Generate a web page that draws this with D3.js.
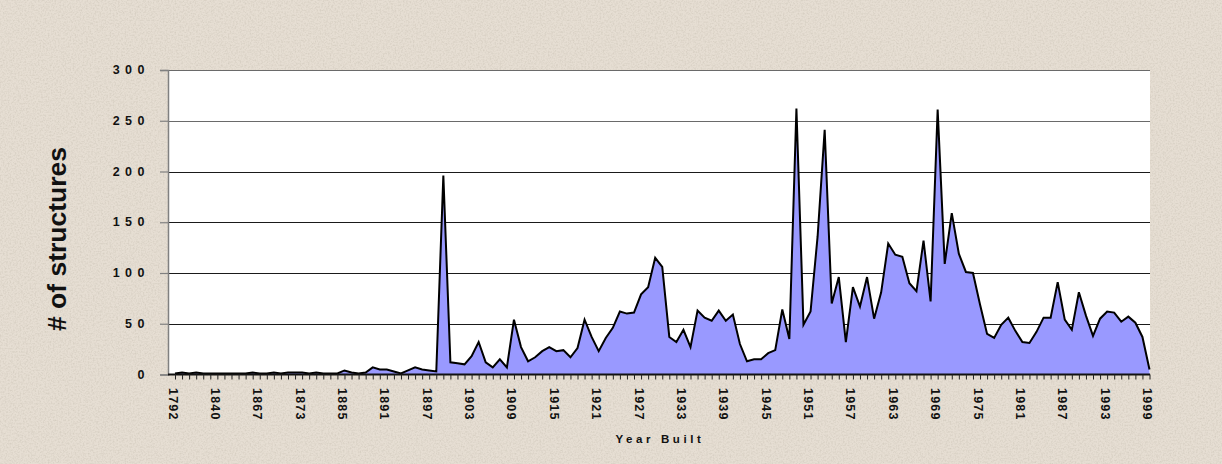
<!DOCTYPE html>
<html>
<head>
<meta charset="utf-8">
<script src="https://cdn.jsdelivr.net/npm/d3@7"></script>
<style>
  html, body { margin: 0; padding: 0; background: #e4dcd0; }
  svg { display: block; }
</style>
</head>
<body>
<svg id="chart" width="1222" height="464"></svg>
<script>
// ---- data ----
const earlyYears = ["1792","1800","1810","1820","1826","1834","1840","1845","1850","1854","1858","1862"];
const midYears = d3.range(1867, 1874).map(String);          // 1867..1873
const gapYears = ["1875","1877","1879","1881","1883"];
const lateYears = d3.range(1885, 2000).map(String);         // 1885..1999
const years = [...earlyYears, ...midYears, ...gapYears, ...lateYears];

const counts = [
  1,2,1,2,1,1,1,1,1,1,1,2,1,1,2,1,2,2,2,1,2,1,1,1,4,2,1,2,7,5,5,3,1,4,7,5,
  4,3,196,12,11,10,18,32,12,7,15,7,54,27,13,17,23,27,23,24,17,26,54,37,23,36,
  46,62,60,61,79,86,115,106,37,32,44,27,63,56,53,63,53,59,30,13,15,15,21,24,
  64,35,262,49,62,136,241,70,96,32,86,67,96,55,81,129,118,116,90,82,132,72,
  261,109,159,119,101,100,69,40,36,49,56,43,32,31,42,56,56,91,54,44,81,58,38,
  55,62,61,52,57,51,37,5
];

const xTickLabels = ["1792","1840","1867","1873","1885","1891","1897","1903","1909","1915",
  "1921","1927","1933","1939","1945","1951","1957","1963","1969","1975","1981","1987","1993","1999"];
const yTicks = [0, 50, 100, 150, 200, 250, 300];

const yTitle = "# of structures";
const xTitle = "Year Built";

// ---- layout ----
const svg = d3.select("#chart");
const W = 1222, H = 464;
const plot = { left: 168, right: 1150, top: 70, bottom: 374.5 };

// background texture
const defs = svg.append("defs");
const f = defs.append("filter").attr("id", "paper").attr("x", 0).attr("y", 0).attr("width", "100%").attr("height", "100%");
f.append("feTurbulence").attr("type", "fractalNoise").attr("baseFrequency", "0.6").attr("numOctaves", 3).attr("seed", 7).attr("result", "n");
f.append("feColorMatrix").attr("in", "n").attr("type", "matrix")
  .attr("values", "0 0 0 0 0.6  0 0 0 0 0.55  0 0 0 0 0.47  0 0 0 -2 1.2");
svg.append("rect").attr("width", W).attr("height", H).attr("fill", "#e6ded3");
svg.append("rect").attr("width", W).attr("height", H).attr("filter", "url(#paper)").attr("opacity", 0.6);

// plot area
svg.append("rect")
  .attr("x", plot.left).attr("y", plot.top)
  .attr("width", plot.right - plot.left).attr("height", plot.bottom - plot.top)
  .attr("fill", "#ffffff");

const x = d3.scalePoint().domain(years).range([175, 1149.5]);
const y = d3.scaleLinear().domain([0, 300]).range([plot.bottom, plot.top]);

// gridlines
svg.append("g").selectAll("line").data(yTicks.filter(d => d > 0)).join("line")
  .attr("x1", plot.left).attr("x2", plot.right)
  .attr("y1", d => Math.round(y(d)) + 0.5).attr("y2", d => Math.round(y(d)) + 0.5)
  .attr("stroke", d => d >= 250 ? "#6a6a6a" : "#1a1a1a").attr("stroke-width", 1);

// area + line
const data = years.map((yr, i) => ({ yr, v: counts[i] }));
svg.append("path").datum(data)
  .attr("fill", "#9999ff")
  .attr("d", d3.area().x(d => x(d.yr)).y0(y(0)).y1(d => y(d.v)));
svg.append("path").datum(data)
  .attr("fill", "none").attr("stroke", "#000").attr("stroke-width", 2).attr("stroke-linejoin", "miter")
  .attr("d", d3.line().x(d => x(d.yr)).y(d => y(d.v)));

// y axis
const yAxis = svg.append("g").attr("transform", `translate(${plot.left},0)`)
  .call(d3.axisLeft(y).tickValues(yTicks).tickSize(8).tickFormat(""));
yAxis.select(".domain").attr("stroke", "#808080").attr("stroke-width", 1.5);
yAxis.selectAll(".tick line").attr("stroke", "#808080").attr("stroke-width", 1.2);

svg.append("g").selectAll("text").data(yTicks).join("text")
  .attr("x", 150).attr("y", d => y(d))
  .attr("text-anchor", "end").attr("dominant-baseline", "central")
  .attr("font-family", "Liberation Sans, Arial, sans-serif").attr("font-weight", "bold")
  .attr("font-size", 12.5).attr("letter-spacing", "5.5px").attr("fill", "#111")
  .text(d => d);

// x axis
const xAxis = svg.append("g").attr("transform", `translate(0,${plot.bottom})`)
  .call(d3.axisBottom(x).tickSize(5).tickFormat(""));
xAxis.select(".domain").attr("d", `M${plot.left},0H${plot.right}`).attr("stroke", "#111").attr("stroke-width", 2);
xAxis.selectAll(".tick line").attr("stroke", "#222").attr("stroke-width", 1);

svg.append("g").selectAll("text").data(xTickLabels).join("text")
  .attr("transform", d => `translate(${x(d) - 2.5},388) rotate(90)`)
  .attr("text-anchor", "start").attr("dominant-baseline", "central")
  .attr("font-family", "Liberation Sans, Arial, sans-serif").attr("font-weight", "bold")
  .attr("font-size", 12.5).attr("letter-spacing", "1.2px").attr("fill", "#111")
  .text(d => d);

// titles
svg.append("text")
  .attr("transform", "translate(57,239) rotate(-90)")
  .attr("text-anchor", "middle").attr("dominant-baseline", "central")
  .attr("font-family", "Liberation Sans, Arial, sans-serif").attr("font-weight", "bold")
  .attr("font-size", 26.5).attr("fill", "#111")
  .text(yTitle);

svg.append("text")
  .attr("x", 660).attr("y", 443)
  .attr("text-anchor", "middle")
  .attr("font-family", "Liberation Sans, Arial, sans-serif").attr("font-weight", "bold")
  .attr("font-size", 11.5).attr("letter-spacing", "3.6px").attr("fill", "#111")
  .text(xTitle);
</script>
</body>
</html>
